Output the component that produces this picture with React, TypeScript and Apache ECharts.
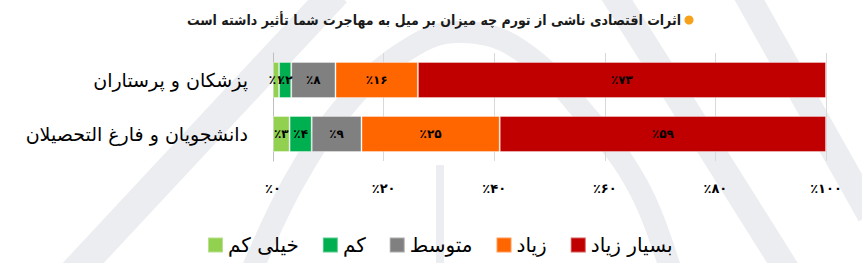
import React, { useEffect, useRef } from "react";
import * as echarts from "echarts";

const titleText = "اثرات اقتصادی ناشی از تورم چه میزان بر میل به مهاجرت شما تأثیر داشته است";
const categories = ["پزشکان و پرستاران", "دانشجویان و فارغ التحصیلان"];
const seriesNames = ["خیلی کم", "کم", "متوسط", "زیاد", "بسیار زیاد"];
const seriesColors = ["#92D050", "#00B050", "#808080", "#FF6600", "#C00000"];
// bar lengths as drawn (percent)
const veryLow = [1.1, 3];
const low = [2.2, 4];
const medium = [8, 9];
const high = [14.9, 25];
const veryHigh = [73.8, 59];
// printed percent labels
const veryLowLabels = [1, 3];
const lowLabels = [2, 4];
const mediumLabels = [8, 9];
const highLabels = [16, 25];
const veryHighLabels = [73, 59];
const xTicks = [0, 20, 40, 60, 80, 100];

const FONT = "'DejaVu Sans', 'Noto Sans', sans-serif";
const FONT_C = "'DejaVu Sans Condensed', 'DejaVu Sans', sans-serif";
const fa = (n: number | string) =>
  String(n).replace(/\d/g, (d) => "۰۱۲۳۴۵۶۷۸۹"[Number(d)]);

export default function App() {
  const ref = useRef<HTMLDivElement>(null);
  useEffect(() => {
    if (!ref.current) return;
    const chart = echarts.init(ref.current, undefined, { renderer: "svg" });
    const values = [veryLow, low, medium, high, veryHigh];
    const labels = [veryLowLabels, lowLabels, mediumLabels, highLabels, veryHighLabels];
    const wm = "#ECEDF0";
    const wmStyle = { stroke: wm, fill: "none", lineCap: "butt" };
    chart.setOption({
      animation: false,
      backgroundColor: "#ffffff",
      textStyle: { fontFamily: FONT },
      graphic: [
        {
          type: "polyline",
          silent: true,
          z: -10,
          shape: {
            points: [[250, 275], [295, 180], [350, 100], [410, 48], [460, 32], [520, 50], [590, 120], [640, 190], [672, 275]],
            smooth: 0.4,
          },
          style: { ...wmStyle, lineWidth: 22 },
        },
        {
          type: "line",
          silent: true,
          z: -10,
          shape: { x1: 72, y1: 275, x2: 336, y2: -8 },
          style: { ...wmStyle, lineWidth: 30 },
        },
        {
          type: "line",
          silent: true,
          z: -10,
          shape: { x1: 612, y1: -8, x2: 790, y2: 275 },
          style: { ...wmStyle, lineWidth: 26 },
        },
        {
          type: "line",
          silent: true,
          z: -10,
          shape: { x1: 745, y1: -8, x2: 870, y2: 215 },
          style: { ...wmStyle, lineWidth: 26 },
        },
        {
          type: "rect",
          silent: true,
          z: -10,
          shape: { x: 436, y: 165, width: 8, height: 100 },
          style: { fill: wm },
        },
        {
          type: "text",
          silent: true,
          z: 10,
          style: {
            text: titleText,
            x: 681,
            y: 20,
            align: "right",
            verticalAlign: "middle",
            font: `bold 14px ${FONT_C}`,
            fill: "#1a1a1a",
          },
        },
        {
          type: "circle",
          silent: true,
          z: 10,
          shape: { cx: 689, cy: 20, r: 4.5 },
          style: { fill: "#F7A11A" },
        },
      ],
      legend: {
        data: seriesNames,
        left: 207,
        top: 235,
        padding: 0,
        icon: "rect",
        itemWidth: 15,
        itemHeight: 15,
        itemGap: 23,
        textStyle: { fontSize: 20, color: "#000", fontFamily: FONT },
      },
      grid: { left: 273, right: 36, top: 53, bottom: 102, containLabel: false },
      xAxis: {
        type: "value",
        min: 0,
        max: 100,
        interval: 20,
        axisLine: { show: false },
        axisTick: { show: false },
        splitLine: { lineStyle: { color: "#D9D9D9", width: 1 } },
        axisLabel: {
          margin: 21,
          fontSize: 13,
          fontWeight: "bold",
          color: "#000",
          formatter: (v: number) => (xTicks.includes(v) ? "٪" + fa(v) : ""),
        },
      },
      yAxis: {
        type: "category",
        data: categories,
        inverse: true,
        axisTick: { show: false },
        axisLine: { show: true, lineStyle: { color: "#BFBFBF", width: 1 } },
        axisLabel: { fontSize: 19, color: "#000", margin: 25 },
      },
      series: seriesNames.map((name, i) => ({
        name,
        type: "bar",
        stack: "total",
        barWidth: 36,
        data: values[i],
        itemStyle: { color: seriesColors[i], borderColor: "rgba(255,255,255,0.35)", borderWidth: 1 },
        label: {
          show: true,
          position: "inside",
          fontSize: 12,
          fontWeight: "bold",
          color: "#000",
          formatter: (p: any) => "٪" + fa(labels[i][p.dataIndex]),
        },
      })),
    });
    return () => chart.dispose();
  }, []);
  return (
    <div
      ref={ref}
      style={{ position: "absolute", left: 0, top: 0, width: 862, height: 263 }}
    />
  );
}
